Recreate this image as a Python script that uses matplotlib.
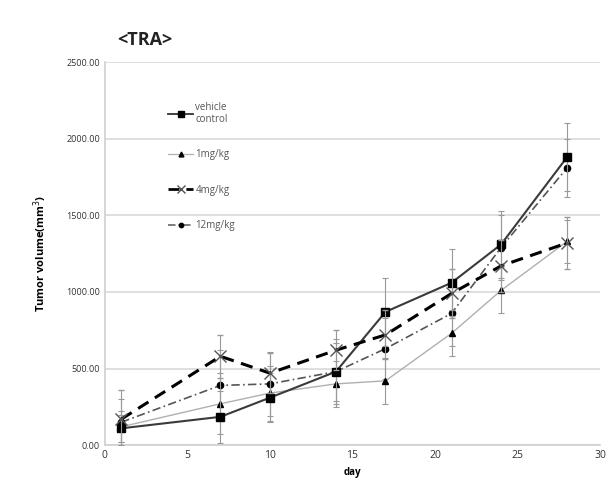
import numpy as np
import matplotlib
matplotlib.use("Agg")
import matplotlib.pyplot as plt
from matplotlib.lines import Line2D

plt.rcParams.update({
    "font.family": ["Open Sans", "DejaVu Sans"],
    "font.size": 7,
})

days = [1, 7, 10, 14, 17, 21, 24, 28]

vehicle = [110, 185, 310, 480, 870, 1060, 1310, 1880]
vehicle_err = [90, 170, 160, 190, 220, 220, 220, 220]

mg1 = [120, 270, 340, 400, 420, 730, 1010, 1330]
mg1_err = [100, 200, 180, 150, 150, 150, 150, 140]

mg4 = [170, 580, 470, 620, 720, 990, 1170, 1320]
mg4_err = [190, 140, 130, 130, 160, 160, 170, 170]

mg12 = [150, 390, 400, 480, 630, 860, 1290, 1810]
mg12_err = [150, 230, 210, 210, 200, 210, 210, 190]

yticks = [0, 500, 1000, 1500, 2000, 2500]
xticks = [0, 5, 10, 15, 20, 25, 30]

fig = plt.figure(figsize=(6.13, 4.93), dpi=100)
ax = fig.add_axes([0.171, 0.097, 0.808, 0.777])

ebar = dict(ecolor="#999999", elinewidth=0.8, capsize=2.5, capthick=0.8)

styles = [
    dict(color="#3a3a3a", lw=1.5, ls="-", marker="s", ms=5.5, mfc="black", mec="black"),
    dict(color="#b0b0b0", lw=1.0, ls="-", marker="^", ms=5, mfc="black", mec="black"),
    dict(color="black", lw=2.2, ls=(0, (4, 2.5)), marker="x", ms=9, mew=1.0, mec="#555555"),
    dict(color="#555555", lw=1.2, ls=(0, (5, 2, 1, 2)), marker="o", ms=4.5, mfc="black", mec="black"),
]
series = [vehicle, mg1, mg4, mg12]
errs = [vehicle_err, mg1_err, mg4_err, mg12_err]
labels = ["vehicle\ncontrol", "1mg/kg", "4mg/kg", "12mg/kg"]
zorders = [5, 4, 6, 3]

handles = []
for y, e, st, lab, z in zip(series, errs, styles, labels, zorders):
    ax.errorbar(days, y, yerr=e, zorder=z, **st, **ebar)
    hs = dict(st)
    hs["ms"] = st["ms"] * 0.7
    hs["lw"] = st["lw"] * 0.9
    handles.append(Line2D([0], [0], label=lab, **hs))

ax.set_xlim(0, 30)
ax.set_ylim(0, 2500)
ax.set_xticks(xticks)
ax.set_yticks(yticks)
ax.set_yticklabels([f"{v:.2f}" for v in yticks], fontsize=6.5, color="#333333")
ax.tick_params(axis="x", labelsize=7.5, colors="#333333", length=0)
ax.tick_params(axis="y", length=0)
ax.grid(axis="y", color="#d9d9d9", lw=1.2)
ax.set_axisbelow(True)
for s in ["top", "right"]:
    ax.spines[s].set_visible(False)
ax.spines["left"].set_color("#d0d0d0")
ax.spines["left"].set_linewidth(1.2)
ax.spines["bottom"].set_color("#d0d0d0")
ax.spines["bottom"].set_linewidth(1.2)

ax.set_xlabel("day", fontsize=7, fontweight="bold", labelpad=4)
ax.set_ylabel("Tumor volume(mm$^3$)", fontsize=8, fontweight="bold", labelpad=12)

ax.legend(handles=handles, loc="upper left", bbox_to_anchor=(0.11, 0.92), frameon=False,
          fontsize=7, labelspacing=2.5, handlelength=2.6, handletextpad=0.2,
          labelcolor="#555555")

fig.text(0.192, 0.919, "<TRA>", fontsize=13, fontweight="bold", color="#222222", va="center")

fig.savefig("out.png", dpi=100)
